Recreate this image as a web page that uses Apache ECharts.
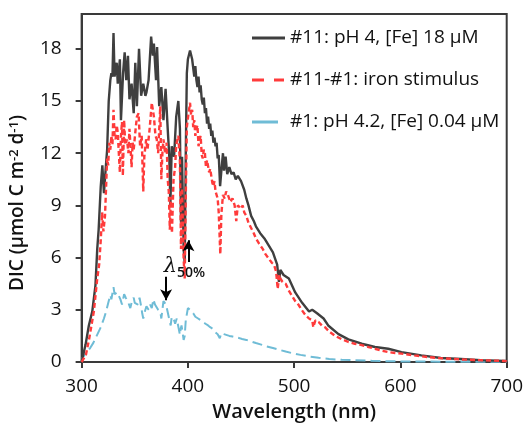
<!DOCTYPE html>
<html>
<head>
<meta charset="utf-8">
<script src="https://cdn.jsdelivr.net/npm/echarts@6/dist/echarts.min.js"></script>
<style>html,body{margin:0;padding:0;background:#fff;}#c{width:526px;height:427px;}</style>
</head>
<body>
<div id="c"></div>
<script>
// Tick labels
const xTicks = [300, 400, 500, 600, 700];
const yTicks = [0, 3, 6, 9, 12, 15, 18];
const seriesNames = ['#11: pH 4, [Fe] 18 \u03bcM', '#11-#1: iron stimulus', '#1: pH 4.2, [Fe] 0.04 \u03bcM'];

// #11: pH 4, [Fe] 18 uM
const wl11 = [300,303.7,306.8,310,313,314.7,316,318,319.5,321,322.5,324,325.5,327,328,329,330,331,333,334,336,337,339,340.5,342,343.6,345,347,349,350.5,352,354,356,358,360,361,363,365.4,367,368,370,371,373,375,377,379,381,382.5,383.5,384.8,387,389,391,392.5,393.5,394.5,396,397,398,399,400,402,404,405,406,407,408,409,410,411,412,413,414,415,416,417,418,419,420,421,422,423,424,425,426,427,428,429,430.3,431.5,433,434,435.5,437,439,441,443,445,447,448.6,450,451.7,453,455,457,459.5,462,464,468,472,476,480,484,485.7,487,490,495,501,507.5,514,517,521.5,527.7,532,541.7,551,563.5,576,588.5,601,619.6,638,657,675.7,699,700];
const dic11 = [0,1.0,2.1,2.9,4.4,6.5,7.6,10.1,11.3,9.7,11.0,12.2,15.0,16.2,16.6,16.4,18.9,16.4,17.2,16.0,17.4,13.9,16.6,17.8,16.2,17.6,15.1,16.0,14.3,17.2,14.7,18.0,15.3,16.0,15.3,15.5,16.2,18.7,17.6,18.3,16.2,18.1,14.7,15.8,13.9,15.7,13.4,11.8,9.0,12.4,11.8,14.1,15.0,13.4,8.0,11.8,6.5,5.7,12.0,16.6,17.4,17.9,17.4,17.4,16.4,17.0,16.2,15.8,16.4,15.5,15.9,15.1,14.8,15.2,14.3,14.6,13.7,14.1,13.4,13.7,13.0,13.3,12.6,12.9,12.4,12.6,11.7,11.9,10.1,11.0,12.0,11.0,11.8,10.8,11.2,10.8,10.9,10.5,10.7,10.7,10.4,10.5,9.9,9.4,9.0,8.4,8.1,7.8,7.4,7.1,6.7,6.3,5.6,4.6,5.3,5.0,4.8,4.0,3.4,2.9,3.0,2.8,2.5,2.1,1.6,1.3,1.05,0.86,0.76,0.57,0.38,0.23,0.17,0.11,0.06,0.05];

// #11-#1: iron stimulus
const wlStim = [300,304,307,311.5,314.7,316.5,318,319.3,320.5,322,323,324,325,326,327,328,329,330,331,332,333,334,335,336,337,338,338.8,340,341,342.7,344,345,346,347,348,349,350.5,352,353.6,355,356.5,358,359,360.7,362,364,366,368,369.5,370.7,372,374,375,376,377,378.5,380,381,382,383,384,385,386.5,388,389,391,392.5,393.5,394.5,396,397,398,399,400,402,403,404,405,406,407,408,409,410,411,412,413,414,415,416,417,418,419,420,421,422,423,424,425,426,427,428,429,430.5,431.5,433,434.6,436,437.7,440,442,444,445.5,447,448.6,450,451.6,453,455,457,459.5,462,464,467,470.4,473,476.6,479,481,483,484.5,486,487,489,492,495,498,501,504,507,510.6,514,517,518,520,523,526,529,533,538.6,545,551,557,563.5,570,576,582,588.5,595,601,613,626,640,657,677,697,700];
const dicStim = [0,0.4,1.3,2.9,4.8,5.6,7.0,8.6,7.5,8.4,10.0,11.7,11.3,12.6,12.2,13.0,12.5,14.5,13.0,12.8,13.6,13.2,12.0,10.9,13.0,13.8,10.7,13.9,12.5,12.8,12.0,13.4,12.4,11.2,12.6,12.2,13.2,14.1,14.3,12.4,13.0,9.8,11.8,12.8,12.2,13.4,14.9,14.1,13.0,12.8,12.0,14.7,10.5,12.0,12.8,12.0,12.6,10.5,9.8,7.6,9.5,7.4,10.5,11.2,12.5,13.0,11.5,6.5,10.0,5.9,4.8,9.5,13.5,14.0,14.9,14.2,14.5,13.5,13.9,13.0,13.4,13.6,12.4,12.8,13.0,11.9,11.7,12.2,12.0,11.2,11.6,11.5,10.9,11.1,11.0,10.3,10.1,10.4,9.8,9.9,9.4,8.6,6.2,8.5,9.6,9.4,9.8,9.6,9.2,9.4,9.0,8.1,9.0,9.1,8.8,9.0,8.6,8.4,8.0,7.7,7.4,7.1,6.8,6.5,6.2,5.9,5.7,5.6,5.2,4.2,5.0,4.8,4.6,4.5,4.1,3.8,3.5,3.3,3.0,2.7,2.5,2.4,2.0,2.4,2.3,2.1,2.0,1.75,1.5,1.3,1.15,1.05,0.97,0.86,0.76,0.66,0.57,0.52,0.48,0.38,0.28,0.21,0.15,0.10,0.06,0.05];

// #1: pH 4.2, [Fe] 0.04 uM
const wl1 = [300,300.6,304,308,311,314.6,318,321,323,325.5,327,328,330,331,332,333.5,335,336.5,338,339,340,341.5,342.7,344,345.8,347,349,350,351,353,354.5,356,357,358,359.5,361,363,364.5,366,367.6,369,370.7,372,374,375,376,377,378.5,379.4,380.5,381.6,383,383.8,384.8,385.6,387,388,389.5,391,392.5,393.2,394,395,396,397,398,400,402,405,407,409.6,412,414,416.5,419,421,423.6,426,428,430,431.5,434,436,439,442,445,448.6,451,455,460,464,469,473.5,480,486,492,498,506,514,523,533,545,557.6,573,589,610,640,670,700];
const dic1 = [0,0.23,0.5,0.8,1.1,1.56,2.0,2.5,2.9,3.5,3.85,3.6,4.3,3.9,3.8,4.0,3.9,3.6,3.3,3.6,3.9,3.7,3.8,3.4,3.1,3.4,3.7,3.4,3.5,3.3,3.7,3.2,2.8,2.5,2.9,3.2,3.0,3.3,3.1,3.6,3.3,3.3,3.0,2.9,2.5,3.0,3.5,3.4,3.3,3.0,2.9,2.3,2.1,2.6,2.6,2.4,2.2,2.5,2.6,1.56,1.9,2.1,1.7,1.27,1.5,2.4,3.1,3.0,2.8,2.6,2.5,2.4,2.3,2.2,2.1,2.0,1.9,1.7,1.6,1.37,1.66,1.6,1.56,1.5,1.46,1.42,1.37,1.32,1.27,1.17,1.09,1.0,0.9,0.8,0.7,0.6,0.51,0.41,0.32,0.24,0.17,0.13,0.1,0.07,0.04,0.03,0.02,0.01,0.01];

// Annotation anchors (wavelength, DIC)
const arrowUp = [[400.5, 5.75], [400.5, 7.0]];
const arrowDown = [[379.5, 4.9], [379.5, 3.55]];
const lambdaLabelAt = [377.3, 5.5];

const pairs = (xs, ys) => xs.map((x, i) => [x, ys[i]]);
const FONT = '"Open Sans", "DejaVu Sans", sans-serif';

const chart = echarts.init(document.getElementById('c'), null, {renderer: 'canvas'});
chart.setOption({
  animation: false,
  backgroundColor: '#ffffff',
  grid: {left: 81, right: 17, top: 14, bottom: 63, show: true, borderColor: '#3a3a3a', borderWidth: 2, backgroundColor: 'transparent'},
  legend: {
    orient: 'vertical', left: 247, top: 23, itemWidth: 33, itemHeight: 3, itemGap: 22,
    symbolKeepAspect: false,
    textStyle: {fontFamily: FONT, fontSize: 19, color: '#111', lineHeight: 20},
    data: [
      {name: seriesNames[0], icon: 'path://M0,0H33V3H0Z'},
      {name: seriesNames[1], icon: 'path://M0,0H12V3H0Z M22,0H32V3H22Z M32,0H33V0.1H32Z'},
      {name: seriesNames[2], icon: 'path://M0,0H26V3H0Z M32.9,0H33V0.1H32.9Z'}
    ]
  },
  xAxis: {
    type: 'value', min: 300, max: 700, interval: 100,
    name: 'Wavelength (nm)', nameLocation: 'middle', nameGap: 40,
    nameTextStyle: {fontFamily: FONT, fontSize: 20, fontWeight: 600, color: '#111'},
    axisLine: {lineStyle: {color: '#3a3a3a', width: 2}},
    axisTick: {show: true, inside: false, length: 6, lineStyle: {color: '#3a3a3a', width: 2}},
    axisLabel: {fontFamily: FONT, fontSize: 19, color: '#111', margin: 15, customValues: xTicks},
    splitLine: {show: false}
  },
  yAxis: {
    type: 'value', min: 0, max: 20, interval: 3,
    name: 'DIC (\u03bcmol C m{sup|-2} d{sup|-1})', nameLocation: 'middle', nameGap: 50, nameRotate: 90,
    nameTextStyle: {fontFamily: FONT, fontSize: 19, fontWeight: 600, color: '#111', padding: [0, 30, 0, 0],
      rich: {sup: {fontFamily: FONT, fontSize: 13, fontWeight: 600, color: '#111', verticalAlign: 'top', lineHeight: 12, padding: [0, 0, 8, 0]}}},
    axisLine: {lineStyle: {color: '#3a3a3a', width: 2}},
    axisTick: {show: true, inside: false, length: 6, lineStyle: {color: '#3a3a3a', width: 2}, customValues: yTicks},
    axisLabel: {fontFamily: FONT, fontSize: 19, color: '#111', margin: 20, customValues: yTicks},
    splitLine: {show: false}
  },
  series: [
    {
      name: seriesNames[0], type: 'line', data: pairs(wl11, dic11), symbol: 'none', z: 3,
      lineStyle: {color: '#3f3f3f', width: 2.4}, itemStyle: {color: '#3f3f3f'},
      markLine: {
        silent: true, symbol: ['none', 'arrow'], symbolSize: [9, 11], label: {show: false},
        lineStyle: {color: '#000', width: 2, type: 'solid'},
        data: [
          [{coord: arrowUp[0]}, {coord: arrowUp[1]}],
          [{coord: arrowDown[0]}, {coord: arrowDown[1]}]
        ]
      },
      markPoint: {
        silent: true, symbol: 'circle', symbolSize: 0,
        label: {
          show: true, position: 'right', distance: 0,
          formatter: '{l|\u03bb}{s|50%}',
          rich: {
            l: {fontFamily: '"DejaVu Serif", serif', fontStyle: 'italic', fontSize: 21, color: '#111', lineHeight: 22, verticalAlign: 'bottom'},
            s: {fontFamily: FONT, fontSize: 14, fontWeight: 600, color: '#111', lineHeight: 14, verticalAlign: 'bottom', padding: [0, 0, -3, 0]}
          }
        },
        data: [{coord: lambdaLabelAt}]
      }
    },
    {
      name: seriesNames[1], type: 'line', data: pairs(wlStim, dicStim), symbol: 'none', z: 4,
      lineStyle: {color: '#ff3b3b', width: 2.4, type: [5, 3]}, itemStyle: {color: '#ff3b3b'}
    },
    {
      name: seriesNames[2], type: 'line', data: pairs(wl1, dic1), symbol: 'none', z: 2,
      lineStyle: {color: '#6fbcd6', width: 2, type: [10, 5]}, itemStyle: {color: '#6fbcd6'}
    }
  ]
});
</script>
</body>
</html>
